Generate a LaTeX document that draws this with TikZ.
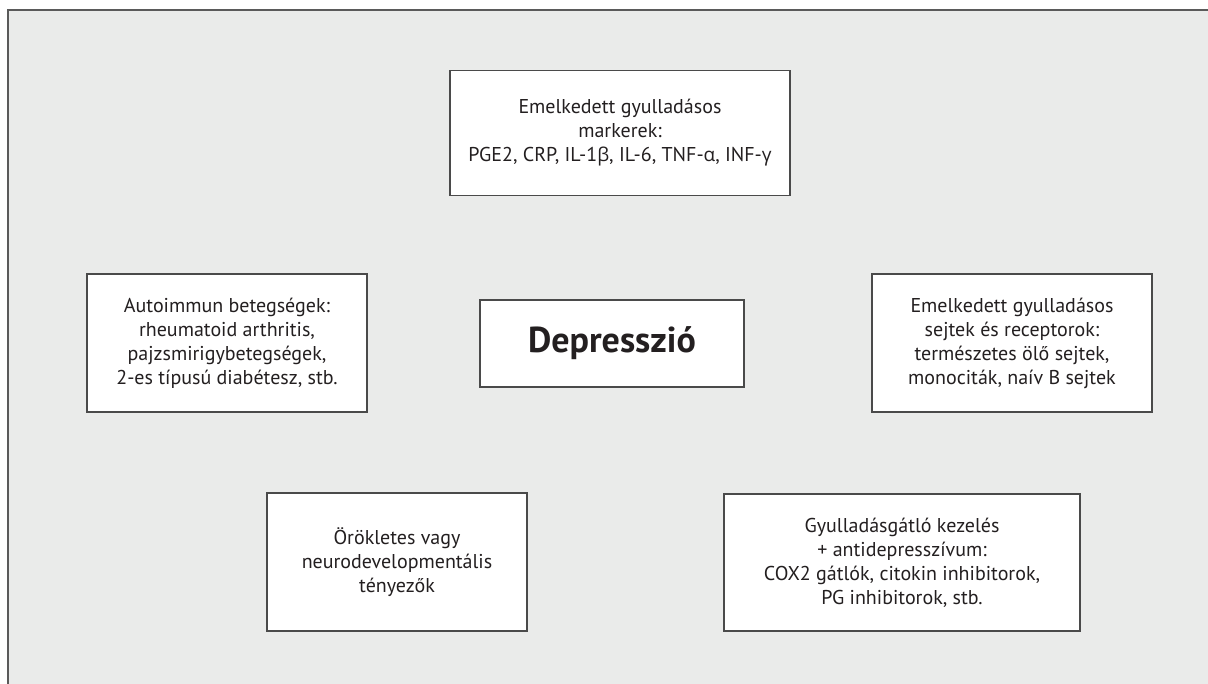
\documentclass[tikz,border=0pt]{standalone}
\usepackage{fontspec}
\setmainfont{PT Sans}
\newfontfamily\greekfont{Open Sans}
\definecolor{bgray}{HTML}{EAEBEA}
\definecolor{frame}{HTML}{5A5A5A}
\definecolor{boxline}{HTML}{4A4A4A}
\definecolor{txt}{HTML}{231F20}
\newcommand{\gk}[1]{{\greekfont\fontsize{19}{24}\selectfont #1}}
\begin{document}
\begin{tikzpicture}[x=1pt,y=-1pt,
  infobox/.style={draw=boxline, line width=1.3pt, fill=white, inner sep=0pt,
    align=center, text=txt, font=\fontsize{20}{24}\selectfont},
  mainbox/.style={draw=boxline, line width=1.3pt, fill=white, inner sep=0pt,
    align=center, text=txt, font=\fontsize{36}{40}\selectfont\bfseries}]
\useasboundingbox (0,0) rectangle (1208,684);
\fill[white] (0,0) rectangle (1208,684);
\fill[bgray] (8,10) rectangle (1208,684);
\draw[frame, line width=2.2pt] (8,684) -- (8,10) -- (1208,10);

\node[infobox, minimum width=340pt, minimum height=125pt] (markers) at (620,133)
  {Emelkedett gyulladásos\\ markerek:\\ PGE2, CRP, IL-1\gk{β}, IL-6, TNF-\gk{α}, INF-\gk{γ}};
\node[infobox, minimum width=280pt, minimum height=138pt] (autoimm) at (227,343)
  {Autoimmun betegségek:\\ rheumatoid arthritis,\\ pajzsmirigybetegségek,\\ 2-es típusú diabétesz, stb.};
\node[mainbox, minimum width=264pt, minimum height=87pt] (depr) at (612,343.5)
  {Depresszió};
\node[infobox, minimum width=280pt, minimum height=138pt] (cells) at (1012,343)
  {Emelkedett gyulladásos\\ sejtek és receptorok:\\ természetes ölő sejtek,\\ monociták, naív B sejtek};
\node[infobox, minimum width=260pt, minimum height=138pt] (hered) at (397,562)
  {Örökletes vagy\\ neurodevelopmentális\\ tényezők};
\node[infobox, minimum width=356pt, minimum height=137pt] (treat) at (902,562.5)
  {Gyulladásgátló kezelés\\ + antidepresszívum:\\ COX2 gátlók, citokin inhibitorok,\\ PG inhibitorok, stb.};
\end{tikzpicture}
\end{document}
